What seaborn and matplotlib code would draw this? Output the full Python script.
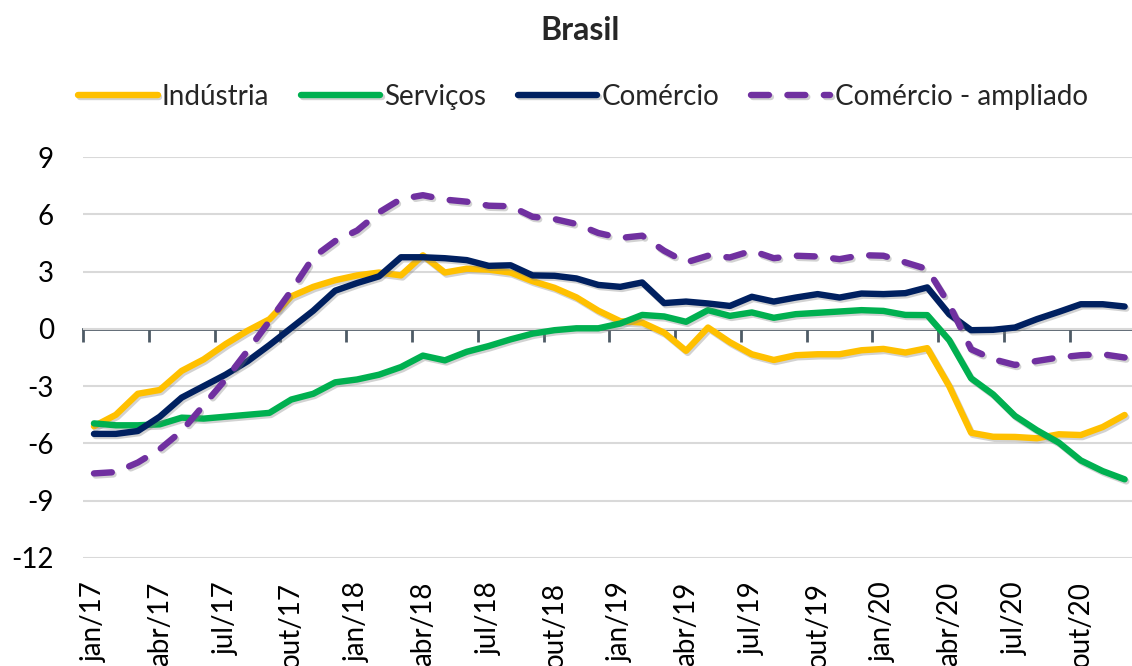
import numpy as np
import pandas as pd
import matplotlib
matplotlib.use("Agg")
import matplotlib.pyplot as plt
import matplotlib.patheffects as pe
import seaborn as sns

# ---------------- data ----------------
meses_abrev = ["jan", "fev", "mar", "abr", "mai", "jun",
               "jul", "ago", "set", "out", "nov", "dez"]
anos = ["17", "18", "19", "20"]
meses = [f"{m}/{a}" for a in anos for m in meses_abrev]

industria = [-5.1, -4.5, -3.4, -3.2, -2.2, -1.6, -0.8, -0.1, 0.5, 1.7, 2.2, 2.55,
             2.8, 2.95, 2.8, 3.85, 2.95, 3.15, 3.1, 2.95, 2.5, 2.15, 1.65, 0.95,
             0.4, 0.33, -0.2, -1.15, 0.07, -0.7, -1.33, -1.63,
             -1.38, -1.33, -1.33, -1.12, -1.05, -1.24, -1.01, -3.0,
             -5.44, -5.65, -5.66, -5.73, -5.52, -5.56, -5.14, -4.51]

servicos = [-4.95, -5.05, -5.05, -5.0, -4.65, -4.7, -4.6, -4.5, -4.4, -3.7, -3.4, -2.8,
            -2.65, -2.4, -2.0, -1.4, -1.65, -1.2, -0.9, -0.55, -0.25, -0.07, 0.03, 0.03,
            0.28, 0.73, 0.65, 0.37, 0.98, 0.68, 0.86, 0.58,
            0.77, 0.84, 0.91, 0.98, 0.94, 0.73, 0.72, -0.59,
            -2.59, -3.43, -4.56, -5.31, -5.96, -6.89, -7.45, -7.88]

comercio = [-5.5, -5.5, -5.35, -4.6, -3.6, -3.0, -2.4, -1.7, -0.85, 0.05, 0.95, 2.0,
            2.4, 2.75, 3.75, 3.75, 3.7, 3.6, 3.3, 3.33, 2.8, 2.78, 2.64, 2.3,
            2.2, 2.43, 1.35, 1.43, 1.33, 1.2, 1.68, 1.43,
            1.64, 1.82, 1.64, 1.85, 1.82, 1.87, 2.17, 0.77,
            -0.07, -0.05, 0.07, 0.51, 0.89, 1.29, 1.29, 1.17]

comercio_ampliado = [-7.57, -7.5, -7.0, -6.3, -5.35, -4.0, -2.65, -1.15, 0.4, 2.0, 3.75, 4.6,
                     5.15, 6.1, 6.8, 7.0, 6.77, 6.66, 6.45, 6.42, 5.87, 5.75, 5.49, 5.02,
                     4.76, 4.88, 4.09, 3.48, 3.83, 3.74, 4.09, 3.7,
                     3.83, 3.79, 3.65, 3.86, 3.83, 3.48, 3.13, 1.29,
                     -1.07, -1.59, -1.89, -1.68, -1.5, -1.38, -1.33, -1.5]

series_nomes = ["Indústria", "Serviços", "Comércio", "Comércio - ampliado"]
y_ticks = [-12, -9, -6, -3, 0, 3, 6, 9]

# ---------------- style ----------------
sns.set_theme(style="white")
plt.rcParams["font.family"] = ["Lato", "DejaVu Sans"]

cores = ["#FFC000", "#00B050", "#002060", "#7030A0"]

fig = plt.figure(figsize=(11.32, 6.66), dpi=100)
ax = fig.add_axes([83 / 1132, 1 - 558 / 666, 1052.6 / 1132, 401 / 666])

x = np.arange(len(meses))
df = pd.DataFrame({"idx": x, "mes": meses,
                   series_nomes[0]: industria,
                   series_nomes[1]: servicos,
                   series_nomes[2]: comercio,
                   series_nomes[3]: comercio_ampliado})

shadow = [pe.SimpleLineShadow(offset=(1.2, -1.5), shadow_color="#7f7f7f", alpha=0.35),
          pe.Normal()]

for nome, cor in zip(series_nomes, cores):
    dashed = nome == "Comércio - ampliado"
    sns.lineplot(data=df, x="idx", y=nome, ax=ax, color=cor, linewidth=4.6,
                 label=nome, legend=False)
    ln = ax.lines[-1]
    ln.set_solid_capstyle("round")
    ln.set_path_effects(shadow)
    if dashed:
        ln.set_dashes((2.8, 2.9))
        ln.set_dash_capstyle("round")

ax.set_xlim(-0.5, len(meses) - 0.5)
ax.set_ylim(-12, 9)

# grid
ax.set_yticks(y_ticks)
ax.set_yticklabels([str(v) for v in y_ticks])
ax.yaxis.grid(True, color="#D9D9D9", linewidth=1.5)
ax.xaxis.grid(False)
for s in ax.spines.values():
    s.set_visible(False)
ax.tick_params(axis="y", length=0, pad=21, labelsize=20, labelcolor="#000000")

# category labels at the bottom
ax.set_xticks(x[::3])
ax.set_xticklabels(meses[::3], rotation=90, ha="center", va="top")
ax.tick_params(axis="x", length=0, pad=17, labelsize=20, labelcolor="#000000")
ax.set_xlabel("")
ax.set_ylabel("")

# horizontal axis line at zero with tick marks between categories
zero_frac = (0 - y_ticks[0]) / (y_ticks[-1] - y_ticks[0])
sec = ax.secondary_xaxis(zero_frac)
sec.set_xticks(np.arange(-0.5, len(meses), 3))
sec.set_xticklabels([])
sec.tick_params(axis="x", direction="in", length=9, width=2, color="#4E5B66")
for s in sec.spines.values():
    s.set_color("#4E5B66")
    s.set_linewidth(2)

# title
fig.text(0.512, 1 - 30 / 666, "Brasil", ha="center", va="center",
         fontsize=23, fontweight="bold")

# legend
handles, labels = ax.get_legend_handles_labels()
leg = fig.legend(handles, labels, loc="center", ncol=4,
                 bbox_to_anchor=(0.515, 1 - 97 / 666), frameon=False,
                 fontsize=20, handlelength=2.85, handletextpad=0.15,
                 columnspacing=1.15)

fig.savefig("out.png", dpi=100)
